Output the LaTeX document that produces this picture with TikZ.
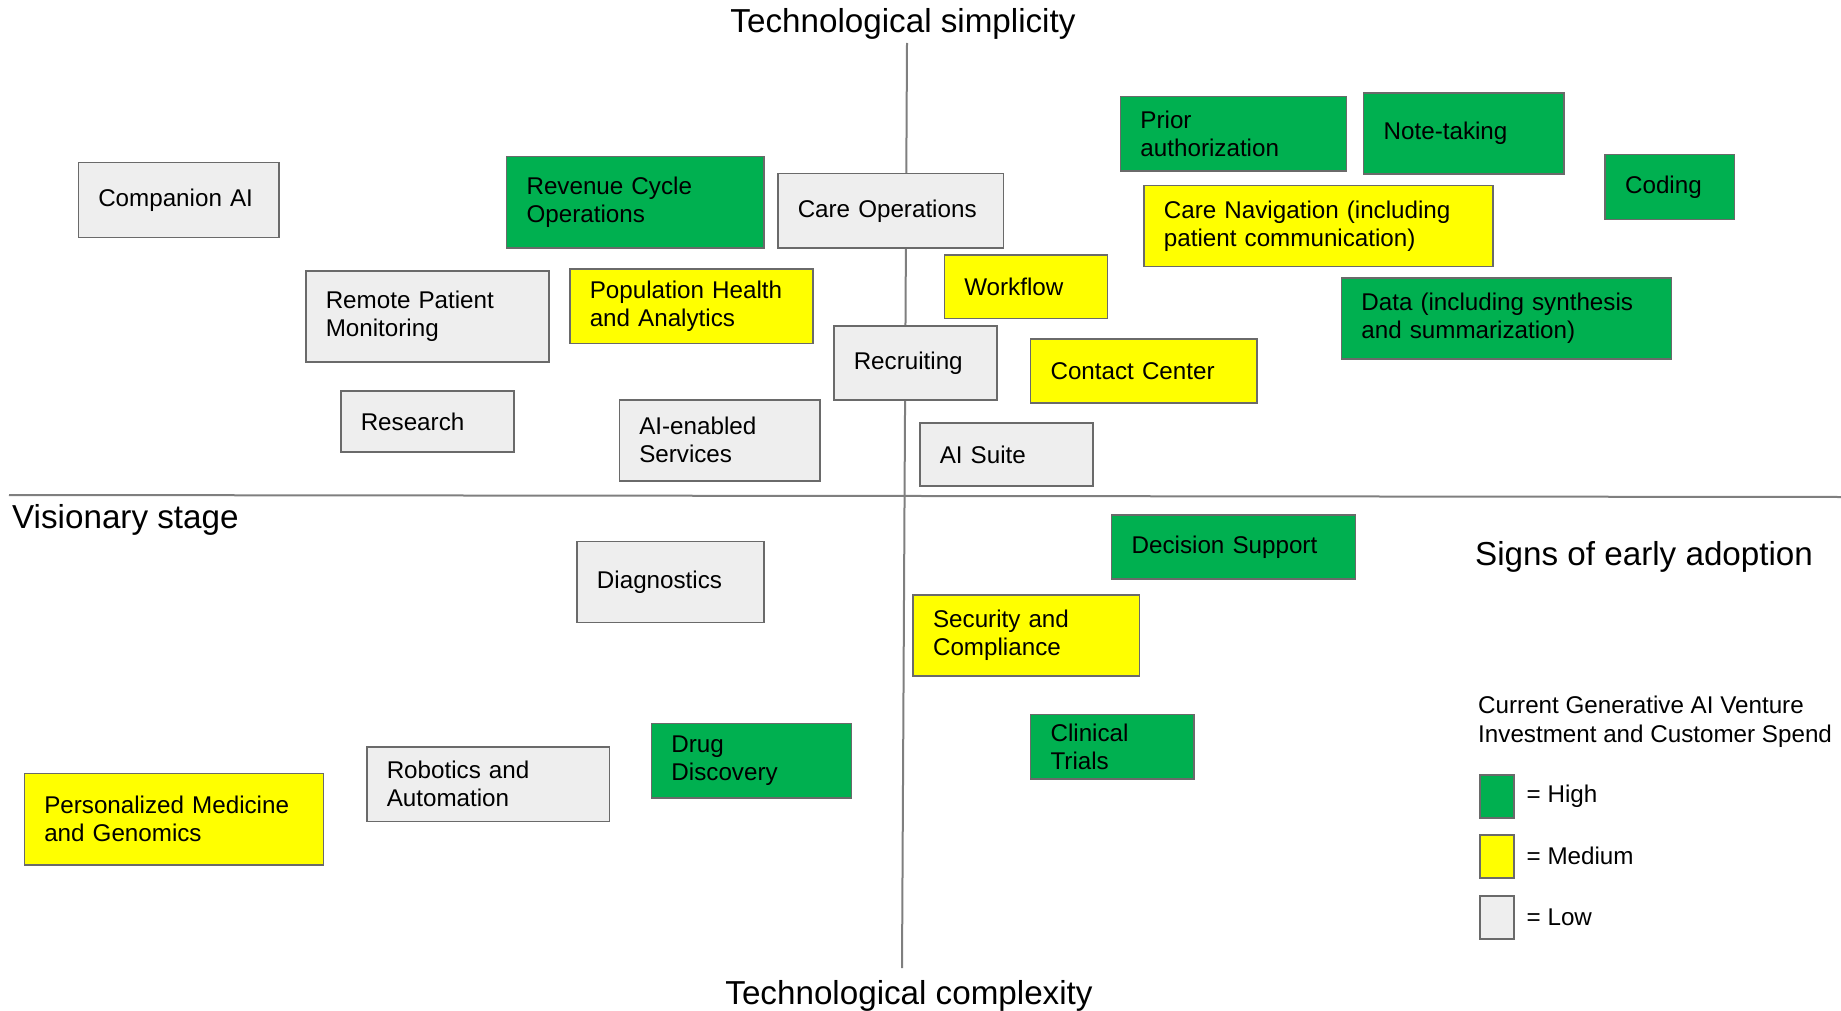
\documentclass[tikz,border=0pt]{standalone}
\usepackage{fontspec}
\setmainfont{Liberation Sans}
\usetikzlibrary{positioning}
\definecolor{highgreen}{HTML}{00B050}
\definecolor{midyellow}{HTML}{FFFF00}
\definecolor{lowgray}{HTML}{EEEEEE}
\definecolor{edgegray}{HTML}{6A6A6A}
\definecolor{axisgray}{HTML}{7F7F7F}

\begin{document}
\begin{tikzpicture}[x=1pt, y=-1pt,
    cell/.style={draw=edgegray, line width=1.5pt, anchor=north west, inner xsep=20pt, inner ysep=0pt, align=left, font=\fontsize{24.2}{28}\selectfont},
    high/.style={cell, fill=highgreen},
    medium/.style={cell, fill=midyellow},
    low/.style={cell, fill=lowgray},
    heading/.style={inner sep=0pt, font=\fontsize{33.2}{39}\selectfont},
    key/.style={draw=edgegray, line width=1.5pt, minimum width=34pt, minimum height=43pt, inner sep=0pt, anchor=north west},
    keytext/.style={inner sep=0pt, font=\fontsize{24.2}{29}\selectfont}]
    \useasboundingbox (0,0) rectangle (1841,1011);
    \coordinate (top) at (907,43);
    \coordinate (bottom) at (902,968);
    \coordinate (left) at (9,495);
    \coordinate (right) at (1841,497);
    \draw[axisgray, line width=2pt] (top) -- (bottom);
    \draw[axisgray, line width=2pt] (left) -- (right);

    \node[heading, anchor=base] (simple) at (903,33) {Technological simplicity};
    \node[heading, anchor=base] (complex) at (909,1004) {Technological complexity};
    \node[heading, anchor=base west] (vision) at (12,528) {Visionary stage};
    \node[heading, anchor=base west] (early) at (1475,565) {Signs of early adoption};

    \node[low, text width=160.5pt, minimum height=75pt] (companion) at (77.5,161.7) {Companion AI};
    \node[high, text width=217.6pt, minimum height=91.6pt] (revenue) at (505.8,155.7) {Revenue Cycle\\Operations};
    \node[low, text width=185.8pt, minimum height=74.3pt] (careops) at (777,173) {Care Operations};
    \node[low, text width=203pt, minimum height=91.3pt] (remote) at (305,270) {Remote Patient\\Monitoring};
    \node[medium, text width=203pt, minimum height=74.7pt] (population) at (569,268) {Population Health\\and Analytics};
    \node[low, text width=123.4pt, minimum height=74pt] (recruiting) at (833,325.3) {Recruiting};
    \node[low, text width=133pt, minimum height=61pt] (research) at (340,390.3) {Research};
    \node[low, text width=160.5pt, minimum height=81pt] (services) at (618.5,399) {AI-enabled\\Services};
    \node[high, text width=186.1pt, minimum height=74.6pt] (prior) at (1119.7,95.7) {Prior\\authorization};
    \node[high, text width=160.3pt, minimum height=81pt] (notes) at (1362.9,92.3) {Note-taking};
    \node[high, text width=89.2pt, minimum height=64.7pt] (coding) at (1604.3,154) {Coding};
    \node[medium, text width=308.8pt, minimum height=81pt] (navigation) at (1143.2,184.7) {Care Navigation (including\\patient communication)};
    \node[medium, text width=123.3pt, minimum height=63.7pt] (workflow) at (943.5,254) {Workflow};
    \node[medium, text width=186.2pt, minimum height=63.7pt] (contact) at (1029.8,338.3) {Contact Center};
    \node[high, text width=290.1pt, minimum height=81.3pt] (data) at (1340.6,277) {Data (including synthesis\\and summarization)};
    \node[low, text width=133pt, minimum height=63.3pt] (suite) at (919,422) {AI Suite};

    \node[low, text width=147.2pt, minimum height=81pt] (diagnostics) at (576.2,540.7) {Diagnostics};
    \node[low, text width=202.5pt, minimum height=74.4pt] (robotics) at (366,746.3) {Robotics and\\Automation};
    \node[high, text width=160.1pt, minimum height=74.6pt] (drug) at (650.7,722.7) {Drug\\Discovery};
    \node[medium, text width=259.2pt, minimum height=91.3pt] (genomics) at (23.5,772.7) {Personalized Medicine\\and Genomics};
    \node[high, text width=203.8pt, minimum height=64.3pt] (decision) at (1110.9,514) {Decision Support};
    \node[medium, text width=186.2pt, minimum height=81pt] (security) at (912.3,594.3) {Security and\\Compliance};
    \node[high, text width=123.3pt, minimum height=64.6pt] (trials) at (1029.8,713.7) {Clinical\\Trials};

    \node[keytext, anchor=west, align=left] (spend) at (1478,722) {Current Generative AI Venture\\Investment and Customer Spend};
    \node[key, fill=highgreen] (keyhigh) at (1479,774) {};
    \node[key, fill=midyellow] (keymid) at (1479,834) {};
    \node[key, fill=lowgray] (keylow) at (1479,895) {};
    \node[keytext, right=12pt of keyhigh] (hightext) {= High};
    \node[keytext, right=12pt of keymid] (midtext) {= Medium};
    \node[keytext, right=12pt of keylow] (lowtext) {= Low};
\end{tikzpicture}
\end{document}
